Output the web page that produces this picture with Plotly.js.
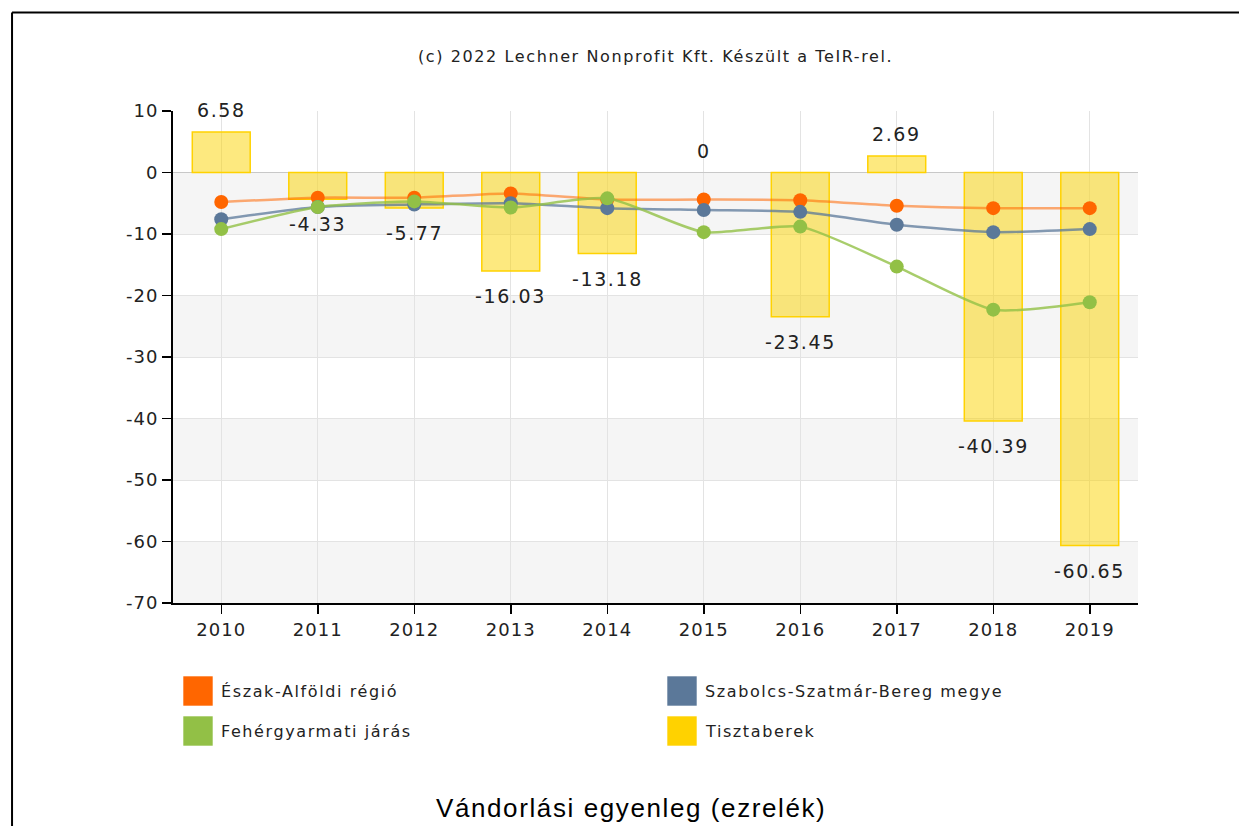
<!DOCTYPE html>
<html>
<head>
<meta charset="utf-8">
<script src="https://cdn.plot.ly/plotly-3.0.1.min.js"></script>
<style>
html,body{margin:0;padding:0;background:#fff;}
#chart{width:1239px;height:826px;}
.annotation-text{letter-spacing:1.6px;}
.xtick text,.ytick text{letter-spacing:1px;}
</style>
</head>
<body>
<div id="chart"></div>
<script>
// ---- data ----
var years = ['2010','2011','2012','2013','2014','2015','2016','2017','2018','2019'];
var eszakAlfoldi = [-4.8, -4.1, -4.1, -3.4, -4.4, -4.4, -4.5, -5.4, -5.8, -5.8];
var szabolcs = [-7.6, -5.6, -5.2, -5.0, -5.8, -6.1, -6.4, -8.5, -9.7, -9.2];
var fehergyarmati = [-9.2, -5.6, -4.7, -5.7, -4.2, -9.7, -8.8, -15.3, -22.3, -21.1];
var tisztaberek = [6.58, -4.33, -5.77, -16.03, -13.18, 0, -23.45, 2.69, -40.39, -60.65];
var tisztaberekLabels = ['6.58','-4.33','-5.77','-16.03','-13.18','0','-23.45','2.69','-40.39','-60.65'];
var seriesNames = ['Észak-Alföldi régió','Szabolcs-Szatmár-Bereg megye','Fehérgyarmati járás','Tisztaberek'];
var yTicks = [10, 0, -10, -20, -30, -40, -50, -60, -70];

var colors = ['#ff6600', '#5b7899', '#92c046', '#ffd200'];
var lineColors = ['rgba(255,102,0,0.55)', 'rgba(91,120,153,0.75)', 'rgba(146,192,70,0.8)'];

var traces = [
  {
    type: 'bar', x: years, y: tisztaberek, name: seriesNames[3],
    width: 0.6,
    marker: {color: 'rgba(252,212,0,0.5)',
      line: {color: '#ffd200', width: tisztaberek.map(function(v){ return v === 0 ? 0 : 1.5; })}},
    showlegend: false
  }
];
var lineSeries = [eszakAlfoldi, szabolcs, fehergyarmati];
[0, 1, 2].forEach(function(i){
  traces.push({
    type: 'scatter', mode: 'lines+markers', x: years, y: lineSeries[i], name: seriesNames[i],
    line: {color: lineColors[i], width: 2.5, shape: 'spline', smoothing: 0.6},
    marker: {color: colors[i], size: 14},
    showlegend: false
  });
});

var shapes = [];
// alternating bands
for (var b = 0; b > -70; b -= 20) {
  shapes.push({type:'rect', xref:'paper', yref:'y', x0:0, x1:1, y0:b, y1:b-10,
    fillcolor:'#f5f5f5', line:{width:0}, layer:'below'});
}
// frame
shapes.push({type:'line', xref:'paper', yref:'paper', x0:-0.1668, x1:1.2, y0:1.2, y1:1.2, line:{color:'#000', width:2}});
shapes.push({type:'line', xref:'paper', yref:'paper', x0:-0.1668, x1:-0.1668, y0:1.2, y1:-0.5, line:{color:'#000', width:2}});

var annotations = [];
// bar labels (category axis: numeric index positions)
tisztaberek.forEach(function(v, i){
  annotations.push({x: i, y: v, xref:'x', yref:'y', text: tisztaberekLabels[i],
    showarrow:false, yshift: v >= 0 ? 22 : -25,
    font:{family:'DejaVu Sans, Verdana, sans-serif', size:19, color:'#222'}});
});
// title
annotations.push({xref:'paper', yref:'paper', x:(655-173)/965, y:1.0 + (111-57)/492, text:'(c) 2022 Lechner Nonprofit Kft. Készült a TeIR-rel.',
  showarrow:false, xanchor:'center', yanchor:'middle',
  font:{family:'DejaVu Sans, Verdana, sans-serif', size:16, color:'#222'}});
// bottom title
annotations.push({xref:'paper', yref:'paper', x:(631-173)/965, y:-(808-603)/492, text:'Vándorlási egyenleg (ezrelék)',
  showarrow:false, xanchor:'center', yanchor:'middle',
  font:{family:'Liberation Sans, Arial, sans-serif', size:26, color:'#000'}});

// custom legend
var legendPos = [[183, 691], [667, 691], [183, 731], [667, 731]];
[0, 1, 2, 3].forEach(function(k){
  var px = legendPos[k][0], py = legendPos[k][1];
  var x0 = (px - 173)/965, x1 = (px + 30 - 173)/965;
  var y0 = -(py - 15 - 603)/492, y1 = -(py + 15 - 603)/492;
  shapes.push({type:'rect', xref:'paper', yref:'paper', x0:x0, x1:x1, y0:y0, y1:y1,
    fillcolor: colors[k], line:{color:'rgba(255,255,255,0.6)', width:1}});
  annotations.push({xref:'paper', yref:'paper', x:(px + 36 - 173)/965, y:-(py - 603)/492,
    text: seriesNames[k], showarrow:false, xanchor:'left', yanchor:'middle',
    font:{family:'DejaVu Sans, Verdana, sans-serif', size:16, color:'#222'}});
});

var layout = {
  width: 1239, height: 826,
  margin: {l:173, r:101, t:111, b:223},
  paper_bgcolor:'#fff', plot_bgcolor:'rgba(0,0,0,0)',
  showlegend:false,
  xaxis: {
    type:'category', range:[-0.5, 9.5],
    showgrid:true, gridcolor:'#e3e3e3', gridwidth:1,
    showline:true, linecolor:'#000', linewidth:2,
    ticks:'outside', ticklen:9, tickcolor:'#000', tickwidth:1.5,
    tickfont:{family:'DejaVu Sans, Verdana, sans-serif', size:18, color:'#222'},
    fixedrange:true
  },
  yaxis: {
    range:[-70, 10], tickvals: yTicks, ticktext: yTicks.map(String),
    showgrid:true, gridcolor:'#e3e3e3', gridwidth:1,
    zeroline:true, zerolinecolor:'#c8c8c8', zerolinewidth:1.5,
    showline:true, linecolor:'#000', linewidth:2,
    ticks:'outside', ticklen:9, tickcolor:'#000', tickwidth:1.5,
    tickfont:{family:'DejaVu Sans, Verdana, sans-serif', size:18, color:'#222'},
    fixedrange:true
  },
  shapes: shapes,
  annotations: annotations
};

Plotly.newPlot('chart', traces, layout, {displayModeBar:false, staticPlot:true});
</script>
</body>
</html>
